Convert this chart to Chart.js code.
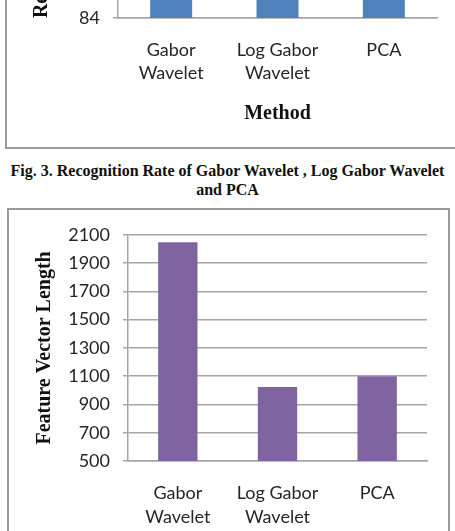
<!DOCTYPE html>
<html>
<head>
<meta charset="utf-8">
<script src="https://cdn.jsdelivr.net/npm/chart.js@4.4.1/dist/chart.umd.min.js"></script>
<style>
  html, body { margin: 0; padding: 0; background: #fff; }
  body { width: 455px; height: 531px; overflow: hidden; position: relative; }
  .box { position: absolute; border: 2px solid #9a9a9a; box-sizing: border-box; }
  canvas { position: absolute; }
  .caption { position: absolute; left: 0; width: 455px; text-align: center;
    font-family: "Liberation Serif", "Times New Roman", serif; font-weight: bold;
    font-size: 16px; line-height: 19px; color: #111; }
</style>
</head>
<body>
<div class="box" style="left:5px; top:-400px; width:520px; height:549px;"></div>
<div class="box" style="left:7px; top:208px; width:443px; height:400px;"></div>
<canvas id="c1" width="460" height="446" style="left:7px; top:-300px;"></canvas>
<canvas id="c2" width="439" height="330" style="left:8px; top:211px;"></canvas>
<div class="caption" style="top:161px;">Fig. 3. Recognition Rate of Gabor Wavelet , Log Gabor Wavelet<br>and PCA</div>
<script>
const categories = [['Gabor', 'Wavelet'], ['Log Gabor', 'Wavelet'], 'PCA'];
const recognitionRate = [93.5, 96, 89];
const featureVectorLength = [2048, 1024, 1100];
const rateTicks = [84, 86, 88, 90, 92, 94, 96, 98];
const lengthTicks = [500, 700, 900, 1100, 1300, 1500, 1700, 1900, 2100];

const gridColor = '#a6a6a6';
const titleFont = { family: '"Liberation Serif", "Times New Roman", serif', size: 20, weight: 'bold', lineHeight: 1.2 };

function makeChart(id, data, color, ticks, yTitle, xTitle, geo) {
  const step = ticks[1] - ticks[0];
  const tickFont = { family: 'Lato, "Open Sans", sans-serif', size: 18, lineHeight: geo.lh };
  return new Chart(document.getElementById(id), {
    type: 'bar',
    data: {
      labels: categories,
      datasets: [{ data: data, backgroundColor: color, borderWidth: 0,
        categoryPercentage: 1, barPercentage: 0.395 }]
    },
    options: {
      responsive: false, animation: false, devicePixelRatio: 1,
      layout: { padding: { left: 0, top: geo.top, right: geo.right, bottom: 0 } },
      plugins: { legend: { display: false }, tooltip: { enabled: false } },
      scales: {
        x: {
          grid: { display: false, drawTicks: false },
          border: { display: true, color: gridColor, width: 1.5 },
          ticks: { font: tickFont, color: '#262626', padding: geo.xPad, maxRotation: 0, autoSkip: false },
          title: { display: !!xTitle, text: xTitle, font: titleFont, color: '#111',
            padding: { top: 0, bottom: geo.xTitlePad } },
          afterFit: (s) => { s.height = geo.xH; }
        },
        y: {
          min: ticks[0], max: ticks[ticks.length - 1],
          grid: { color: gridColor, lineWidth: 1.5, tickLength: 5, drawTicks: true },
          border: { display: true, color: gridColor, width: 1.5 },
          ticks: { stepSize: step, font: { family: 'Lato, "Open Sans", sans-serif', size: 18 },
            color: '#262626', padding: 13, callback: (v) => String(v) },
          title: { display: true, text: yTitle, font: titleFont, color: '#111',
            padding: { top: geo.yTitlePad, bottom: 0 } },
          afterFit: (s) => { s.width = geo.yW; }
        }
      }
    }
  });
}

makeChart('c1', recognitionRate, '#4F81BD', rateTicks, 'Recognition Rate', 'Method',
  { top: 171, right: 30, xPad: 20.5, xTitlePad: 20, xH: 128, yW: 111, yTitlePad: 23, lh: 23 / 18 });
makeChart('c2', featureVectorLength, '#8064A2', lengthTicks, 'Feature Vector Length', '',
  { top: 21, right: 20, xPad: 20, xTitlePad: 0, xH: 80, yW: 120, yTitlePad: 25, lh: 24 / 18 });
</script>
</body>
</html>
